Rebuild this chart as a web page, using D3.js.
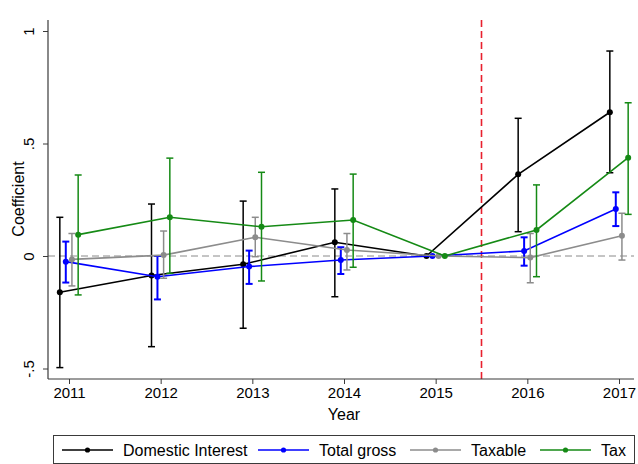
<!DOCTYPE html>
<html>
<head>
<meta charset="utf-8">
<script src="https://cdn.jsdelivr.net/npm/d3@7"></script>
<style>
  html, body { margin: 0; padding: 0; background: #fff; }
  svg { display: block; font-family: "Liberation Sans", Arial, Helvetica, sans-serif; }
</style>
</head>
<body>
<svg id="chart" width="638" height="464"></svg>
<script>
// ---------- data ----------
const years = [2011, 2012, 2013, 2014, 2015, 2016, 2017];
const seriesNames = ["Domestic Interest", "Total gross", "Taxable", "Tax"];
const seriesColors = ["#000000", "#0000ff", "#8c8c8c", "#158a15"];
const seriesOffsets = [-0.1, -0.035, 0.032, 0.1];

const domesticCoef = [-0.161, -0.087, -0.037, 0.061, 0, 0.363, 0.639];
const domesticLo   = [-0.496, -0.403, -0.321, -0.181, null, 0.108, 0.370];
const domesticHi   = [0.172, 0.231, 0.244, 0.298, null, 0.612, 0.911];

const grossCoef = [-0.025, -0.092, -0.047, -0.018, 0, 0.022, 0.209];
const grossLo   = [-0.118, -0.193, -0.124, -0.080, null, -0.043, 0.133];
const grossHi   = [0.064, 0.000, 0.024, 0.039, null, 0.083, 0.283];

const taxableCoef = [-0.015, 0.004, 0.083, 0.027, 0, -0.007, 0.090];
const taxableLo   = [-0.133, -0.099, -0.003, -0.062, null, -0.119, -0.018];
const taxableHi   = [0.100, 0.111, 0.172, 0.100, null, 0.100, 0.190];

const taxCoef = [0.095, 0.172, 0.130, 0.160, 0, 0.116, 0.437];
const taxLo   = [-0.173, -0.077, -0.111, -0.050, null, -0.092, 0.185];
const taxHi   = [0.360, 0.435, 0.372, 0.364, null, 0.316, 0.681];

const yTickValues = [-0.5, 0, 0.5, 1];
const yTickLabels = ["-.5", "0", ".5", "1"];
const xTickValues = years;
const treatmentLine = 2015.5;
const xLabel = "Year";
const yLabel = "Coefficient";

// ---------- build ----------
const seriesData = [
  [domesticCoef, domesticLo, domesticHi],
  [grossCoef, grossLo, grossHi],
  [taxableCoef, taxableLo, taxableHi],
  [taxCoef, taxLo, taxHi]
].map((arr, si) => ({
  name: seriesNames[si],
  color: seriesColors[si],
  points: years.map((yr, i) => ({
    x: yr + seriesOffsets[si], y: arr[0][i], lo: arr[1][i], hi: arr[2][i]
  }))
}));

const svg = d3.select("#chart");
const axisLeftX = 48, axisRight = 634, axisTop = 20, axisBottomY = 379;

const x = d3.scaleLinear().domain([2011, 2017]).range([69, 619]);
const y = d3.scaleLinear().domain([-0.5, 1]).range([368.5, 31]);

const axisColor = "#3a3a3a";

// zero reference line
svg.append("line")
  .attr("x1", axisLeftX).attr("x2", axisRight)
  .attr("y1", y(0)).attr("y2", y(0))
  .attr("stroke", "#8a8a8a").attr("stroke-width", 1)
  .attr("stroke-dasharray", "7,4");

// treatment line
svg.append("line")
  .attr("x1", x(treatmentLine)).attr("x2", x(treatmentLine))
  .attr("y1", axisTop).attr("y2", axisBottomY)
  .attr("stroke", "#e8202e").attr("stroke-width", 1.6)
  .attr("stroke-dasharray", "7,4");

// y axis
const yAxis = d3.axisLeft(y).tickValues(yTickValues)
  .tickFormat((d, i) => yTickLabels[i]).tickSize(5).tickSizeOuter(0);
const gy = svg.append("g").attr("transform", `translate(${axisLeftX},0)`).call(yAxis);
gy.select(".domain").remove();
gy.selectAll(".tick line").attr("stroke", axisColor);
gy.selectAll(".tick text")
  .attr("x", 0).attr("dy", null).attr("y", 0)
  .attr("transform", "translate(-14,0) rotate(-90)")
  .attr("text-anchor", "middle")
  .attr("font-size", 15).attr("fill", "#000");
svg.append("line")
  .attr("x1", axisLeftX).attr("x2", axisLeftX)
  .attr("y1", axisTop).attr("y2", axisBottomY)
  .attr("stroke", axisColor).attr("stroke-width", 1.2);

// x axis
const xAxis = d3.axisBottom(x).tickValues(xTickValues)
  .tickFormat(d3.format("d")).tickSize(5).tickSizeOuter(0);
const gx = svg.append("g").attr("transform", `translate(0,${axisBottomY})`).call(xAxis);
gx.select(".domain").remove();
gx.selectAll(".tick line").attr("stroke", axisColor);
gx.selectAll(".tick text").attr("y", 8).attr("dy", "0.71em")
  .attr("font-size", 15).attr("fill", "#000");
svg.append("line")
  .attr("x1", axisLeftX).attr("x2", axisRight)
  .attr("y1", axisBottomY).attr("y2", axisBottomY)
  .attr("stroke", axisColor).attr("stroke-width", 1.2);

// axis titles
svg.append("text").attr("x", 344).attr("y", 420)
  .attr("text-anchor", "middle").attr("font-size", 16).text(xLabel);
svg.append("text")
  .attr("transform", "translate(24,199) rotate(-90)")
  .attr("text-anchor", "middle").attr("font-size", 16).text(yLabel);

// series
const line = d3.line().x(d => x(d.x)).y(d => y(d.y));
const capW = 3.5;
seriesData.forEach((s, si) => {
  const g = svg.append("g");
  const ebW = si === 1 ? 2 : 1.5;
  const ci = s.points.filter(p => p.lo !== null);
  g.selectAll("line.bar").data(ci).enter().append("line")
    .attr("x1", d => x(d.x)).attr("x2", d => x(d.x))
    .attr("y1", d => y(d.lo)).attr("y2", d => y(d.hi))
    .attr("stroke", s.color).attr("stroke-width", ebW);
  g.selectAll("line.capt").data(ci).enter().append("line")
    .attr("x1", d => x(d.x) - capW).attr("x2", d => x(d.x) + capW)
    .attr("y1", d => y(d.hi)).attr("y2", d => y(d.hi))
    .attr("stroke", s.color).attr("stroke-width", ebW);
  g.selectAll("line.capb").data(ci).enter().append("line")
    .attr("x1", d => x(d.x) - capW).attr("x2", d => x(d.x) + capW)
    .attr("y1", d => y(d.lo)).attr("y2", d => y(d.lo))
    .attr("stroke", s.color).attr("stroke-width", ebW);
  g.append("path").datum(s.points).attr("d", line)
    .attr("fill", "none").attr("stroke", s.color).attr("stroke-width", 1.6);
  g.selectAll("circle").data(s.points).enter().append("circle")
    .attr("cx", d => x(d.x)).attr("cy", d => y(d.y)).attr("r", 3)
    .attr("fill", s.color);
});

// legend
const legend = svg.append("g");
legend.append("rect").attr("x", 53.5).attr("y", 435.5).attr("width", 581).attr("height", 28)
  .attr("fill", "#fff").attr("stroke", axisColor).attr("stroke-width", 1);
const legendLineX = [62, 258, 410, 540];
const legendLineW = 51;
seriesData.forEach((s, i) => {
  const lx = legendLineX[i];
  legend.append("line").attr("x1", lx).attr("x2", lx + legendLineW)
    .attr("y1", 450).attr("y2", 450)
    .attr("stroke", s.color).attr("stroke-width", 1.5);
  legend.append("circle").attr("cx", lx + legendLineW / 2).attr("cy", 450).attr("r", 2.6)
    .attr("fill", s.color);
  legend.append("text").attr("x", lx + legendLineW + 10).attr("y", 456)
    .attr("font-size", 16).attr("fill", "#000").text(s.name);
});
</script>
</body>
</html>
